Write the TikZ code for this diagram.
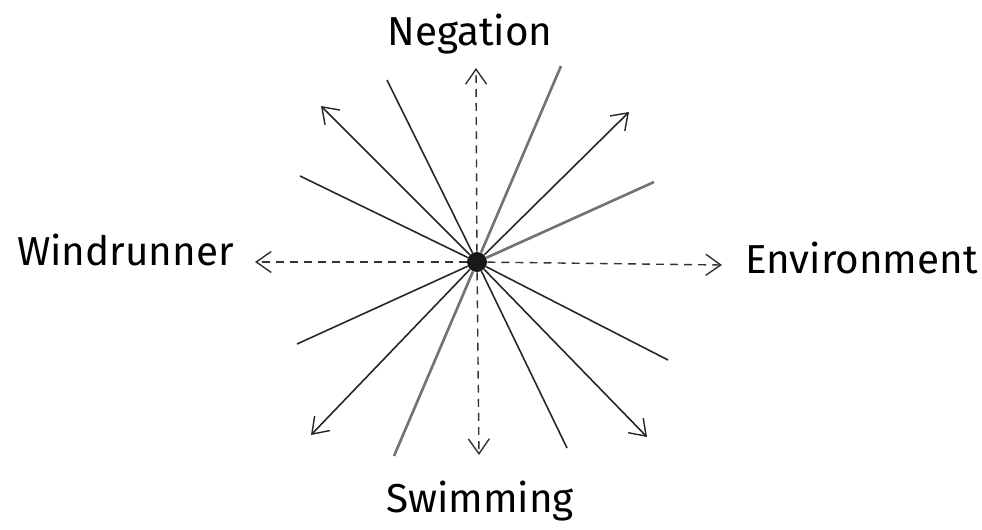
\documentclass[tikz,border=0pt]{standalone}
\usepackage{fontspec}
\setmainfont{Fira Sans}
\usetikzlibrary{arrows.meta}

\tikzset{
  ray/.style={line width=0.9pt,black!85},
  grayray/.style={line width=1.5pt,black!55},
  axis/.style={line width=0.8pt,black!80,dash pattern=on 4.5pt off 3.5pt},
  tip/.style={-{Straight Barb[length=0.3cm,width=0.42cm,line width=0.8pt]}},
  lab/.style={font=\fontsize{23}{27}\selectfont}
}

\begin{document}
\begin{tikzpicture}
  \useasboundingbox (-9.54,-5.34) rectangle (10.1,5.24);
  \node[circle,fill=black!90,minimum size=0.4cm,inner sep=0pt] (c) at (0,0) {};
  % ends of the rays
  \coordinate (u1) at (-3.54,1.72);
  \coordinate (u2) at (-3.12,3.12);
  \coordinate (u3) at (-1.8,3.64);
  \coordinate (u4) at (-0.02,3.88);
  \coordinate (u5) at (1.68,3.92);
  \coordinate (u6) at (3.04,3.0);
  \coordinate (u7) at (3.54,1.6);
  \coordinate (r) at (4.9,-0.06);
  \coordinate (l) at (-4.44,0);
  \coordinate (d1) at (-3.6,-1.64);
  \coordinate (d2) at (-3.32,-3.46);
  \coordinate (d3) at (-1.66,-3.88);
  \coordinate (d4) at (0.04,-3.86);
  \coordinate (d5) at (1.8,-3.72);
  \coordinate (d6) at (3.4,-3.5);
  \coordinate (d7) at (3.82,-1.96);
  % rays
  \draw[ray] (c)--(u1);
  \draw[ray,tip] (c)--(u2);
  \draw[ray] (c)--(u3);
  \draw[axis,tip] (c)--(u4);
  \draw[grayray] (c)--(u5);
  \draw[ray,tip] (c)--(u6);
  \draw[grayray] (c)--(u7);
  \draw[axis,tip] (c)--(r);
  \draw[axis,tip] (c)--(l);
  \draw[ray] (c)--(d1);
  \draw[ray,tip] (c)--(d2);
  \draw[grayray] (c)--(d3);
  \draw[axis,tip] (c)--(d4);
  \draw[ray] (c)--(d5);
  \draw[ray,tip] (c)--(d6);
  \draw[ray] (c)--(d7);
  % labels
  \node[lab,anchor=base] (neg) at (-0.14,4.34) {Negation};
  \node[lab,anchor=base] (swim) at (0.06,-5.0) {Swimming};
  \node[lab,anchor=base east] (wind) at (-4.74,-0.06) {Windrunner};
  \node[lab,anchor=base west] (env) at (5.24,-0.22) {Environment};
\end{tikzpicture}
\end{document}
